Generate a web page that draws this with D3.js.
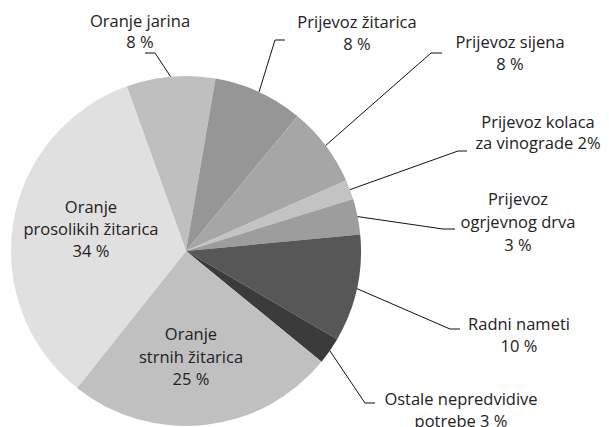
<!DOCTYPE html>
<html>
<head>
<meta charset="utf-8">
<script src="https://cdn.jsdelivr.net/npm/d3@7"></script>
<style>
  body { margin: 0; background: #fff; }
  text { font-family: 'Open Sans', sans-serif; font-size: 16.5px; fill: #222; }
</style>
</head>
<body>
<div id="chart"></div>
<script>
// slice names and values (share of the circle, as drawn)
var categories = ["Oranje jarina", "Prijevoz žitarica", "Prijevoz sijena", "Prijevoz kolaca za vinograde",
  "Prijevoz ogrjevnog drva", "Radni nameti", "Ostale nepredvidive potrebe", "Oranje strnih žitarica", "Oranje prosolikih žitarica"];
var shares = [8.2, 8.3, 7.4, 1.8, 3.3, 9.9, 2.5, 24.8, 33.8];
// label text, one array of lines per slice
var labelLines = [
  ["Oranje jarina", "8 %"],
  ["Prijevoz žitarica", "8 %"],
  ["Prijevoz sijena", "8 %"],
  ["Prijevoz kolaca", "za vinograde 2%"],
  ["Prijevoz", "ogrjevnog drva", "3 %"],
  ["Radni nameti", "10 %"],
  ["Ostale nepredvidive", "potrebe 3 %"],
  ["Oranje", "strnih žitarica", "25 %"],
  ["Oranje", "prosolikih žitarica", "34 %"]
];
var colors = ["#bfbfbf", "#969696", "#a6a6a6", "#c3c3c3", "#9d9d9d", "#575757", "#3b3b3b", "#c0c0c0", "#e0e0e0"];

// label layout: text centre x, first baseline y, line step; leader elbow + end (null = label inside slice)
var layout = [
  { x: 140, y: 27, step: 21, elbow: [155, 53], end: 145 },
  { x: 357, y: 28, step: 22, elbow: [275, 40], end: 285 },
  { x: 510, y: 48, step: 22, elbow: [431, 53], end: 442 },
  { x: 538, y: 128, step: 21, elbow: [458, 151], end: 467 },
  { x: 518, y: 205, step: 23, elbow: [443, 229], end: 455 },
  { x: 519, y: 330, step: 22, elbow: [450, 329], end: 460 },
  { x: 461, y: 405, step: 22, elbow: [365, 403], end: 375 },
  { x: 191, y: 340, step: 22.5, elbow: null },
  { x: 91, y: 213, step: 22, elbow: null }
];

var width = 609, height = 427;
var cx = 186, cy = 251, radius = 175;
var start = -19.8 * Math.PI / 180;

var svg = d3.select("#chart")
  .append("svg")
  .attr("width", width)
  .attr("height", height);

var pie = d3.pie()
  .sort(null)
  .startAngle(start)
  .endAngle(start + 2 * Math.PI)
  .value(function (d) { return d; });

var arcs = pie(shares);

var arc = d3.arc().innerRadius(0).outerRadius(radius);
var rim = d3.arc().innerRadius(radius).outerRadius(radius);

var g = svg.append("g")
  .attr("transform", "translate(" + cx + "," + cy + ")");

g.selectAll("path")
  .data(arcs)
  .enter().append("path")
  .attr("d", arc)
  .attr("fill", function (d, i) { return colors[i]; });

// leader lines: slice rim mid-angle -> elbow -> short horizontal
svg.append("g")
  .selectAll("polyline")
  .data(arcs.filter(function (d, i) { return layout[i].elbow; }))
  .enter().append("polyline")
  .attr("fill", "none")
  .attr("stroke", "#111")
  .attr("stroke-width", 1)
  .attr("points", function (d) {
    var L = layout[d.index];
    var c = rim.centroid(d);
    return [[cx + c[0], cy + c[1]], L.elbow, [L.end, L.elbow[1]]].join(" ");
  });

// labels
var labels = svg.append("g")
  .selectAll("text")
  .data(labelLines)
  .enter().append("text")
  .attr("text-anchor", "middle");

labels.selectAll("tspan")
  .data(function (d, i) { return d.map(function (t, j) { return { t: t, i: i, j: j }; }); })
  .enter().append("tspan")
  .attr("x", function (d) { return layout[d.i].x; })
  .attr("y", function (d) { return layout[d.i].y + d.j * layout[d.i].step; })
  .text(function (d) { return d.t; });
</script>
</body>
</html>
